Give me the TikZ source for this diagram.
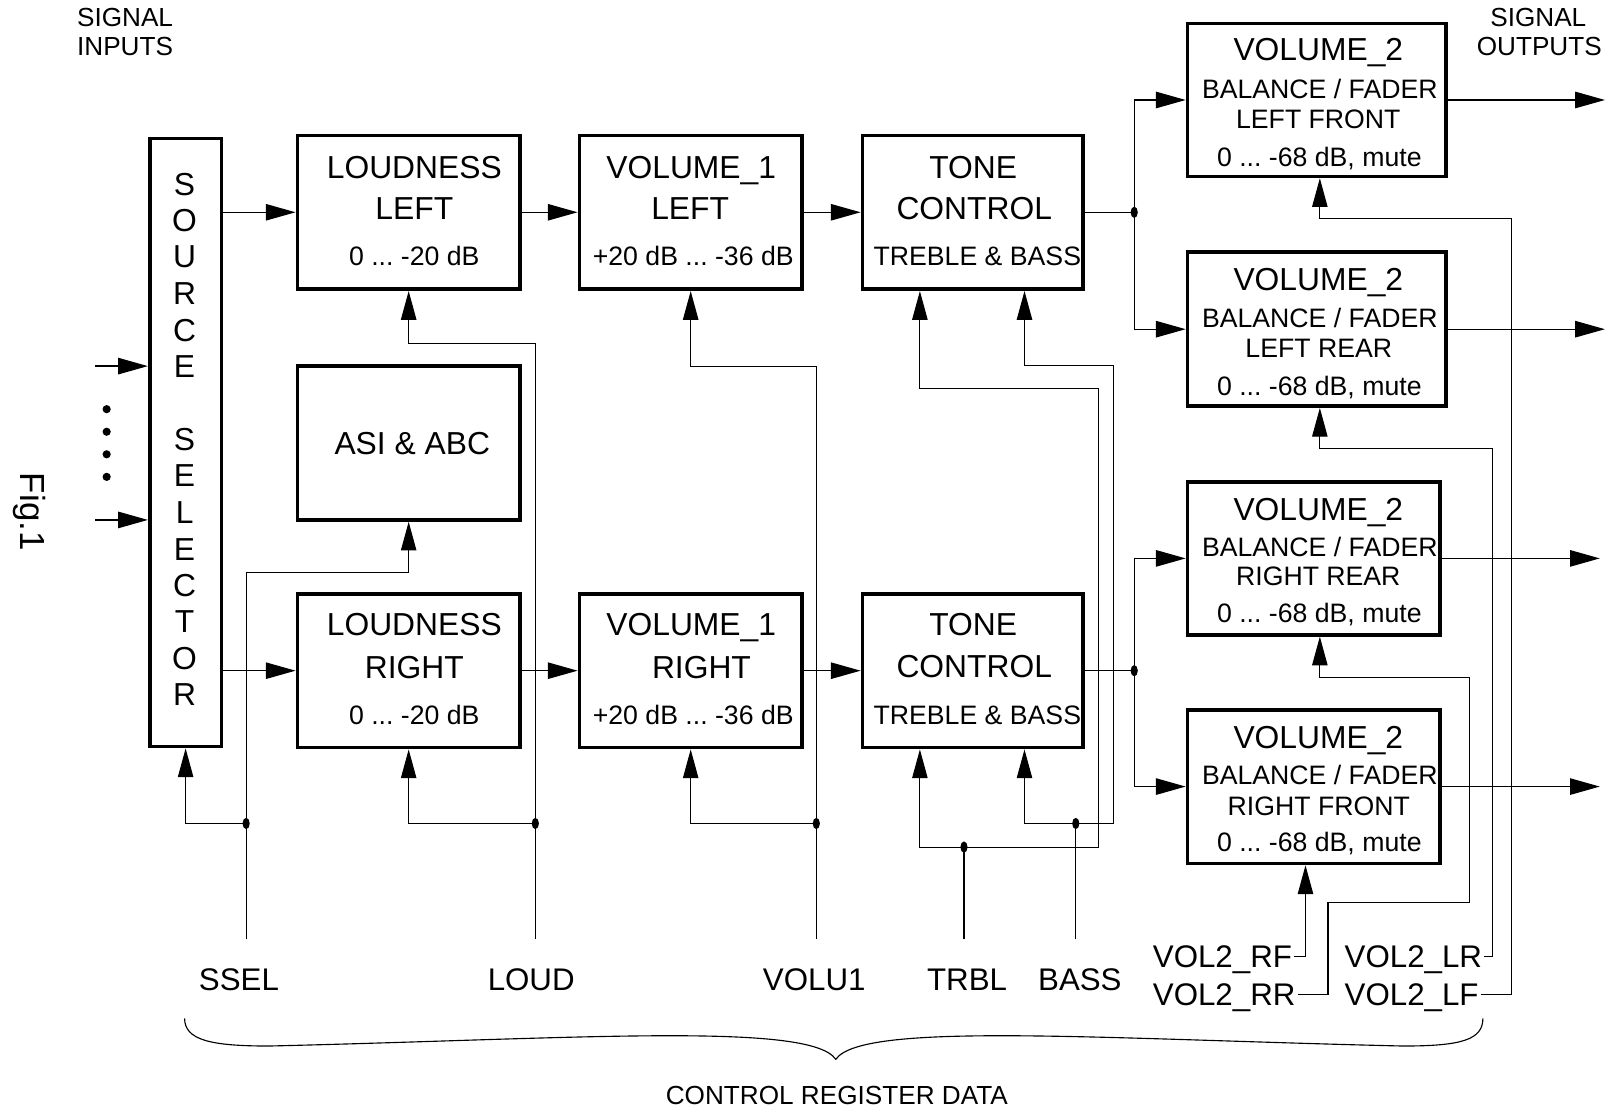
\documentclass[tikz,border=0pt]{standalone}
\usepackage{fontspec}
\setmainfont{Liberation Sans}
\usetikzlibrary{arrows.meta,calc}
\begin{document}
\frenchspacing
\begin{tikzpicture}[x=1pt,y=-1pt,
  box/.style={draw, line width=3.6pt, rectangle, inner sep=0pt},
  big/.style={font=\fontsize{31}{36}\selectfont, text height=22.2pt, text depth=0pt, inner sep=0pt},
  small/.style={font=\fontsize{26}{30}\selectfont, text height=18.6pt, text depth=0pt, inner sep=0pt},
  lab/.style={font=\fontsize{30.5}{35}\selectfont, text height=21.8pt, text depth=0pt, inner sep=0pt},
  vlab/.style={font=\fontsize{30.5}{35}\selectfont, text height=21.8pt, text depth=0pt, inner ysep=0pt, inner xsep=2pt},
  head/.style={font=\fontsize{25.5}{30}\selectfont, text height=18.3pt, text depth=0pt, inner sep=0pt},
  sig/.style={line width=1.3pt},
  arr/.style={line width=1.3pt, -{Triangle[length=29pt,width=16pt]}},
  ctl/.style={line width=1.1pt},
  carr/.style={line width=1.1pt, -{Triangle[length=28pt,width=15pt]}},
  jdot/.style={x radius=3.5pt, y radius=5.5pt}
]
\useasboundingbox (0,0) rectangle (1568,1086);

% ---------- boxes ----------
\node[box, minimum width=70pt, minimum height=593pt] (ss) at (181,431.5) {};
\node[box, minimum width=217pt, minimum height=150pt] (ll) at (398.5,207) {};
\node[box, minimum width=217pt, minimum height=150pt] (vl) at (673.5,207) {};
\node[box, minimum width=215pt, minimum height=150pt] (tl) at (948.5,207) {};
\node[box, minimum width=217pt, minimum height=150pt] (asi) at (398.5,432) {};
\node[box, minimum width=217pt, minimum height=150pt] (lr) at (398.5,654) {};
\node[box, minimum width=217pt, minimum height=150pt] (vr) at (673.5,654) {};
\node[box, minimum width=215pt, minimum height=150pt] (tr) at (948.5,654) {};
\node[box, minimum width=252pt, minimum height=149pt] (lf) at (1284,97.5) {};
\node[box, minimum width=252pt, minimum height=150pt] (lrr) at (1284,321) {};
\node[box, minimum width=246pt, minimum height=149pt] (rr) at (1281,544.5) {};
\node[box, minimum width=246pt, minimum height=150pt] (rf) at (1281,767) {};

% ---------- box texts ----------
\foreach \l/\y [count=\i] in {S/180,O/215,U/250,R/286,C/322,E/357,S/428,E/463,L/499,E/535,C/571,T/606,O/642,R/677}
  \node[big] (sl\i) at (180,\y) {\l};

\node[big] (ll1) at (404,163) {LOUDNESS};
\node[big] (ll2) at (404,203) {LEFT};
\node[small] (ll3) at (404,250) {0 ... -20 dB};

\node[big] (vl1) at (674,163) {VOLUME\_1};
\node[big] (vl2) at (673,203) {LEFT};
\node[small] (vl3) at (676,250) {+20 dB ... -36 dB};

\node[big] (tl1) at (949,163) {TONE};
\node[big] (tl2) at (950,203) {CONTROL};
\node[small] (tl3) at (953,250) {TREBLE \& BASS};

\node[big] (asi1) at (402,432) {ASI \& ABC};

\node[big] (lr1) at (404,609) {LOUDNESS};
\node[big] (lr2) at (404,651) {RIGHT};
\node[small] (lr3) at (404,697) {0 ... -20 dB};

\node[big] (vr1) at (674,609) {VOLUME\_1};
\node[big] (vr2) at (684,651) {RIGHT};
\node[small] (vr3) at (676,697) {+20 dB ... -36 dB};

\node[big] (tr1) at (949,609) {TONE};
\node[big] (tr2) at (950,650) {CONTROL};
\node[small] (tr3) at (953,697) {TREBLE \& BASS};

\node[big] (lf1) at (1285.5,48) {VOLUME\_2};
\node[small] (lf2) at (1287,87) {BALANCE / FADER};
\node[small] (lf3) at (1285.5,116) {LEFT FRONT};
\node[small] (lf4) at (1286.5,153) {0 ... -68 dB, mute};

\node[big] (lrr1) at (1285.5,272) {VOLUME\_2};
\node[small] (lrr2) at (1287,310) {BALANCE / FADER};
\node[small] (lrr3) at (1286,339) {LEFT REAR};
\node[small] (lrr4) at (1286.5,376) {0 ... -68 dB, mute};

\node[big] (rr1) at (1285.5,496) {VOLUME\_2};
\node[small] (rr2) at (1287,533) {BALANCE / FADER};
\node[small] (rr3) at (1285.5,562) {RIGHT REAR};
\node[small] (rr4) at (1286.5,598) {0 ... -68 dB, mute};

\node[big] (rf1) at (1285.5,719) {VOLUME\_2};
\node[small] (rf2) at (1287,756) {BALANCE / FADER};
\node[small] (rf3) at (1286,786) {RIGHT FRONT};
\node[small] (rf4) at (1286.5,821) {0 ... -68 dB, mute};

% ---------- headings ----------
\node[head, anchor=west] (si1) at (75,17) {SIGNAL};
\node[head, anchor=west] (si2) at (75,45) {INPUTS};
\node[head] (so1) at (1500,17) {SIGNAL};
\node[head] (so2) at (1501,45) {OUTPUTS};
\node[font=\fontsize{34}{38}\selectfont, rotate=-90, inner sep=0pt] (fig) at (29,499) {Fig.1};

% ---------- bottom labels ----------
\node[lab] (ssel) at (233,955) {SSEL};
\node[lab] (loud) at (518,955) {LOUD};
\node[lab] (volu) at (794,955) {VOLU1};
\node[lab] (trbl) at (943,955) {TRBL};
\node[lab] (bass) at (1053,955) {BASS};
\node[vlab, anchor=west] (rfl) at (1122,933) {VOL2\_RF};
\node[vlab, anchor=west] (rrl) at (1122,970) {VOL2\_RR};
\node[vlab, anchor=west] (lrl) at (1309,933) {VOL2\_LR};
\node[vlab, anchor=west] (lfl) at (1309,970) {VOL2\_LF};
\node[head] (crd) at (816,1068) {CONTROL REGISTER DATA};

% ---------- inputs ----------
\coordinate (in1) at (93,357);
\coordinate (in2) at (93,507);
\draw[arr] (in1) -- (ss.west |- in1);
\draw[arr] (in2) -- (ss.west |- in2);
\foreach \y [count=\i] in {399,421,443,465}
  \fill (104,\y) circle [radius=4pt];

% ---------- signal path ----------
\draw[arr] (ss.east |- ll.west) -- (ll.west);
\draw[arr] (ll.east) -- (vl.west);
\draw[arr] (vl.east) -- (tl.west);
\coordinate (jt) at (1106,207);
\draw[sig] (tl.east) -- (jt);
\draw[arr] (jt) |- (lf.west);
\draw[arr] (jt) |- (lrr.west);
\fill (jt) ellipse [jdot];
\coordinate (o1) at (1565,97.5);
\coordinate (o2) at (1565,321);
\draw[arr] (lf.east) -- (o1);
\draw[arr] (lrr.east) -- (o2);

\draw[arr] (ss.east |- lr.west) -- (lr.west);
\draw[arr] (lr.east) -- (vr.west);
\draw[arr] (vr.east) -- (tr.west);
\coordinate (jb) at (1106,654);
\draw[sig] (tr.east) -- (jb);
\draw[arr] (jb) |- (rr.west);
\draw[arr] (jb) |- (rf.west);
\fill (jb) ellipse [jdot];
\coordinate (o3) at (1560,544.5);
\coordinate (o4) at (1560,767);
\draw[arr] (rr.east) -- (o3);
\draw[arr] (rf.east) -- (o4);

% ---------- control lines ----------
\coordinate (cS) at (240,916); \coordinate (jS) at (240,803);
\draw[carr] (cS) -- (240,558) -| (asi.south);
\draw[carr] (jS) -| (ss.south);
\fill (jS) ellipse [jdot];

\coordinate (cL) at (522,916); \coordinate (jL) at (522,803);
\draw[carr] (cL) -- (522,335) -| (ll.south);
\draw[carr] (jL) -| (lr.south);
\fill (jL) ellipse [jdot];

\coordinate (cV) at (796,916); \coordinate (jV) at (796,803);
\draw[carr] (cV) -- (796,357) -| (vl.south);
\draw[carr] (jV) -| (vr.south);
\fill (jV) ellipse [jdot];

\coordinate (cT) at (940,916); \coordinate (jT) at (940,826);
\draw[ctl] (cT) -- (jT);
\draw[carr] (jT) -| ([xshift=-51.5pt]tr.south);
\draw[carr] (jT) -- (1071,826) -- (1071,379) -| ([xshift=-51.5pt]tl.south);
\fill (jT) ellipse [jdot];

\coordinate (cB) at (1049,916); \coordinate (jB) at (1049,803);
\draw[ctl] (cB) -- (jB);
\draw[carr] (jB) -| ([xshift=50.5pt]tr.south);
\draw[carr] (jB) -- (1086,803) -- (1086,356) -| ([xshift=50.5pt]tl.south);
\fill (jB) ellipse [jdot];

\draw[carr] (rfl.east) -| ([xshift=-8pt]rf.south);
\draw[carr] (rrl.east) -| (1295,880) -| (1433,661) -| ([xshift=6pt]rr.south);
\draw[carr] (lrl.east) -| (1455,437) -| ([xshift=3pt]lrr.south);
\draw[carr] (lfl.east) -| (1474,213) -| ([xshift=3pt]lf.south);

% ---------- brace ----------
\draw[line width=1.1pt] (180,993) .. controls (180,1014) and (205,1020) .. (262,1020)
  .. controls (560,1013) and (790,996) .. (815,1033)
  .. controls (840,996) and (1070,1013) .. (1368,1020)
  .. controls (1425,1020) and (1446,1014) .. (1446,993);
\end{tikzpicture}
\end{document}
